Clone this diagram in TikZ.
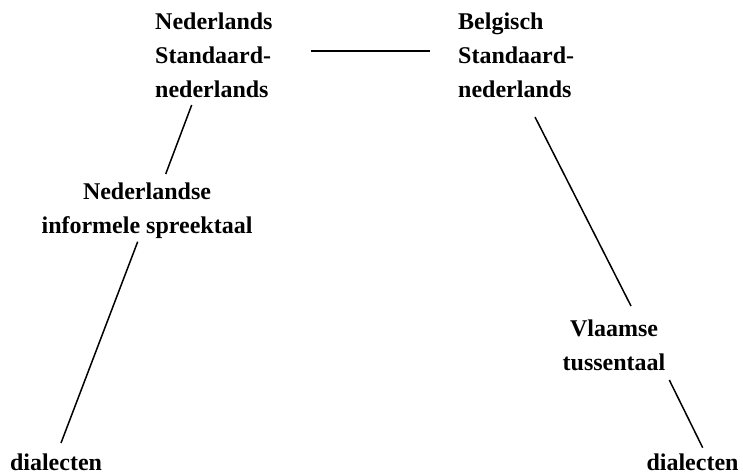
\documentclass[tikz,border=0pt]{standalone}
\usepackage{fontspec}
\setmainfont{Liberation Serif}
\usetikzlibrary{positioning, calc}

\tikzset{
  lect/.style={inner sep=0pt, font=\fontsize{24}{34}\selectfont\bfseries},
  link/.style={line width=1.5pt}
}

\begin{document}
\begin{tikzpicture}[x=1pt, y=-1pt, line cap=butt]
      \useasboundingbox (0,0) rectangle (743,475);
      % top row
      \node[lect, anchor=north west, align=left] (nl) at (155,12.8) {Nederlands\\Standaard-\\nederlands};
      \node[lect, anchor=north west, align=left] (be) at (458,12.8) {Belgisch\\Standaard-\\nederlands};
      % middle
      \node[lect, anchor=north, align=center] (nis) at (147,182.8) {Nederlandse\\informele spreektaal};
      \node[lect, anchor=north, align=center] (vt) at (614,319.8) {Vlaamse\\tussentaal};
      % bottom
      \node[lect, anchor=base] (dl) at (56,470.5) {dialecten};
      \node[lect, anchor=base] (dr) at (692.5,470.5) {dialecten};
      \draw[link] ($(nl.north west)+(156,38.2)$) -- ($(be.north west)+(-28,38.2)$);
      \draw[link] ($(nl.north west)+(36.7,92.2)$) -- ($(nis.north)+(18.7,-8.8)$);
      \draw[link] ($(nis.north)+(-9.3,58.9)$) -- ($(dl.base)+(5,-27.5)$);
      \draw[link] ($(be.north west)+(77,104.2)$) -- ($(vt.north)+(17,-13.8)$);
      \draw[link] ($(vt.north)+(55.3,60.2)$) -- ($(dr.base)+(10.2,-22.8)$);
    \end{tikzpicture}
\end{document}
